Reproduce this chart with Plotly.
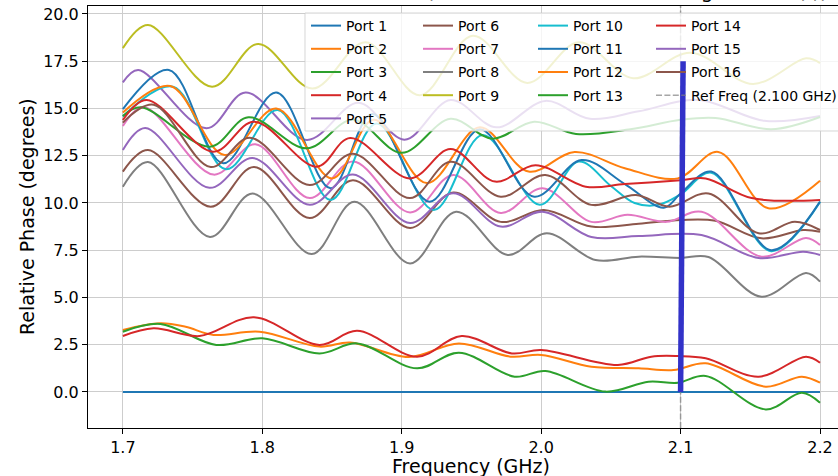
import plotly.graph_objects as go

# ---------------- data ----------------
tick_freqs = [1.7, 1.8, 1.9, 2.0, 2.1, 2.2]
tick_freq_labels = ["1.7", "1.8", "1.9", "2.0", "2.1", "2.2"]
tick_phase = [0.0, 2.5, 5.0, 7.5, 10.0, 12.5, 15.0, 17.5, 20.0]
tick_phase_labels = ["0.0", "2.5", "5.0", "7.5", "10.0", "12.5", "15.0", "17.5", "20.0"]

ref_freq = 2.100
marker_f = [2.100, 2.1018]
marker_v = [0.0, 17.5]

p1_f = [1.700, 2.200]
p1_v = [0.0, 0.0]

p2_f = [1.700, 1.727, 1.745, 1.765, 1.798, 1.841, 1.863, 1.905, 1.941, 1.978, 2.000, 2.036, 2.070, 2.095, 2.118, 2.161, 2.187, 2.200]
p2_v = [3.28, 3.63, 3.45, 3.02, 3.19, 2.40, 2.62, 1.85, 2.57, 1.87, 1.96, 1.34, 1.25, 1.16, 1.52, 0.28, 0.81, 0.49]

p3_f = [1.700, 1.727, 1.767, 1.800, 1.841, 1.868, 1.911, 1.941, 1.981, 2.003, 2.046, 2.077, 2.098, 2.118, 2.161, 2.187, 2.200]
p3_v = [3.19, 3.60, 2.49, 2.84, 2.04, 2.57, 1.25, 2.08, 0.81, 1.11, 0.02, 0.54, 0.49, 0.85, -0.92, -0.04, -0.57]

p4_f = [1.700, 1.722, 1.755, 1.794, 1.841, 1.868, 1.911, 1.943, 1.979, 2.000, 2.055, 2.079, 2.098, 2.118, 2.156, 2.190, 2.200]
p4_v = [2.96, 3.37, 2.96, 3.95, 2.49, 3.24, 1.87, 2.96, 2.04, 2.22, 1.43, 1.87, 1.90, 1.78, 0.81, 1.87, 1.55]

p5_f = [1.700, 1.711, 1.760, 1.788, 1.832, 1.869, 1.902, 1.935, 1.968, 2.003, 2.035, 2.070, 2.113, 2.160, 2.200]
p5_v = [16.38, 17.04, 13.95, 15.84, 13.33, 15.30, 13.35, 15.45, 14.00, 15.40, 14.45, 14.85, 15.45, 14.35, 14.60]

p6_f = [1.700, 1.718, 1.763, 1.794, 1.834, 1.865, 1.906, 1.937, 1.971, 2.002, 2.036, 2.070, 2.100, 2.125, 2.158, 2.188, 2.200]
p6_v = [11.66, 12.80, 9.80, 11.90, 9.20, 11.20, 8.68, 10.55, 9.00, 9.63, 8.75, 8.90, 9.10, 9.06, 8.13, 8.57, 8.48]

p7_f = [1.700, 1.715, 1.765, 1.795, 1.834, 1.865, 1.906, 1.937, 1.971, 2.001, 2.036, 2.062, 2.090, 2.115, 2.158, 2.190, 2.200]
p7_v = [14.07, 15.08, 11.50, 13.10, 10.26, 12.20, 9.50, 11.48, 9.47, 10.78, 9.00, 9.37, 9.00, 9.54, 7.16, 8.15, 7.78]

p8_f = [1.700, 1.718, 1.7625, 1.793, 1.8355, 1.866, 1.906, 1.939, 1.976, 2.004, 2.039, 2.070, 2.100, 2.120, 2.158, 2.190, 2.200]
p8_v = [10.86, 12.17, 8.20, 10.50, 7.30, 10.06, 6.80, 9.54, 7.25, 8.40, 6.98, 7.16, 7.09, 7.14, 5.04, 6.30, 5.84]

p9_f = [1.700, 1.718, 1.764, 1.797, 1.836, 1.874, 1.913, 1.951, 1.990, 2.027, 2.066, 2.107, 2.152, 2.190, 2.200]
p9_v = [18.19, 19.42, 16.15, 18.41, 16.05, 18.50, 15.70, 18.85, 16.35, 18.50, 16.60, 17.95, 16.30, 17.65, 17.40]

p10_f = [1.700, 1.736, 1.774, 1.811, 1.849, 1.882, 1.923, 1.958, 1.999, 2.027, 2.050, 2.067, 2.084, 2.100, 2.122, 2.165, 2.200]
p10_v = [14.57, 16.15, 11.78, 14.92, 10.16, 14.20, 9.63, 13.60, 9.90, 12.19, 10.90, 10.00, 9.90, 10.45, 11.60, 7.45, 10.05]

p11_f = [1.700, 1.733, 1.772, 1.810, 1.849, 1.879, 1.920, 1.956, 1.995, 2.029, 2.060, 2.088, 2.100, 2.122, 2.165, 2.200]
p11_v = [14.96, 17.04, 12.10, 15.84, 10.78, 14.70, 10.07, 13.90, 10.33, 12.27, 11.00, 9.75, 10.50, 11.66, 7.50, 10.07]

p12_f = [1.700, 1.734, 1.773, 1.810, 1.850, 1.880, 1.918, 1.956, 1.991, 2.024, 2.060, 2.098, 2.127, 2.163, 2.200]
p12_v = [14.78, 16.19, 12.54, 15.00, 11.30, 14.40, 11.05, 14.00, 11.66, 12.70, 11.84, 11.30, 12.70, 9.72, 11.18]

p13_f = [1.700, 1.713, 1.7625, 1.790, 1.832, 1.865, 1.900, 1.935, 1.965, 1.995, 2.025, 2.064, 2.100, 2.125, 2.165, 2.200]
p13_v = [14.60, 15.06, 12.98, 14.53, 12.89, 14.40, 12.65, 14.45, 13.40, 14.30, 13.65, 13.90, 14.40, 14.50, 13.90, 14.55]

p14_f = [1.700, 1.717, 1.765, 1.794, 1.839, 1.863, 1.906, 1.935, 1.967, 1.996, 2.032, 2.060, 2.100, 2.118, 2.151, 2.200]
p14_v = [14.39, 15.45, 12.71, 14.30, 11.92, 13.44, 11.30, 12.85, 11.13, 12.00, 10.86, 11.00, 11.20, 11.30, 10.26, 10.16]

p15_f = [1.700, 1.716, 1.762, 1.793, 1.834, 1.865, 1.906, 1.937, 1.971, 2.001, 2.036, 2.070, 2.115, 2.156, 2.188, 2.200]
p15_v = [12.80, 13.97, 10.80, 12.38, 9.90, 11.50, 8.94, 10.51, 8.75, 9.54, 8.20, 8.25, 8.30, 7.09, 7.42, 7.25]

p16_f = [1.700, 1.722, 1.763, 1.791, 1.834, 1.865, 1.906, 1.935, 1.971, 2.003, 2.036, 2.068, 2.092, 2.120, 2.156, 2.182, 2.200]
p16_v = [14.25, 15.20, 11.90, 13.45, 10.95, 12.60, 10.26, 12.18, 10.33, 11.48, 9.90, 10.42, 9.80, 10.50, 8.40, 9.00, 8.57]

port_names = ["Port %d" % i for i in range(1, 17)]
port_colors = ["#1f77b4", "#ff7f0e", "#2ca02c", "#d62728", "#9467bd", "#8c564b", "#e377c2", "#7f7f7f",
               "#bcbd22", "#17becf", "#1f77b4", "#ff7f0e", "#2ca02c", "#d62728", "#9467bd", "#8c564b"]
ref_label = "Ref Freq (2.100 GHz)"

# ---------------- layout geometry (pixels) ----------------
W, H = 838, 476
ML, MR, MT, MB = 88, 0, 6, 48
PW, PH = W - ML - MR, H - MT - MB


def px_x(p):
    return (p - ML) / PW


def px_y(p):
    return 1 - (p - MT) / PH


series_f = [p1_f, p2_f, p3_f, p4_f, p5_f, p6_f, p7_f, p8_f, p9_f, p10_f, p11_f, p12_f, p13_f, p14_f, p15_f, p16_f]
series_v = [p1_v, p2_v, p3_v, p4_v, p5_v, p6_v, p7_v, p8_v, p9_v, p10_v, p11_v, p12_v, p13_v, p14_v, p15_v, p16_v]
legend_of = ["legend"] * 5 + ["legend2"] * 4 + ["legend3"] * 4 + ["legend4"] * 3

fig = go.Figure()
for i in range(16):
    fig.add_trace(go.Scatter(
        x=series_f[i], y=series_v[i], mode="lines", name=port_names[i],
        line=dict(color=port_colors[i], width=2, shape="spline" if i > 0 else "linear", smoothing=1.0),
        legend=legend_of[i], legendgroup="g%d" % i, hoverinfo="skip",
    ))

# reference frequency line (dashed, full height)
fig.add_shape(type="line", xref="x", yref="y domain", x0=ref_freq, x1=ref_freq, y0=0, y1=1,
              line=dict(color="rgba(128,128,128,0.7)", width=1.5, dash="6px,2.4px"),
              layer="above", showlegend=True, name=ref_label, legend="legend4",
              legendgroup="ref", legendrank=2000)

# legend background box (single box behind the 4 legend columns)
fig.add_shape(type="rect", xref="paper", yref="paper",
              x0=px_x(305), x1=px_x(880), y0=px_y(131), y1=px_y(13),
              fillcolor="rgba(255,255,255,0.8)", line=dict(color="rgba(204,204,204,0.8)", width=1),
              layer="above")

# thick blue marker line drawn over everything
fig.add_shape(type="line", xref="x", yref="y", x0=marker_f[0], x1=marker_f[1], y0=marker_v[0], y1=marker_v[1],
              line=dict(color="#3232c8", width=5.5), layer="above")

font_family = "DejaVu Sans"
leg_common = dict(xref="paper", yref="paper", xanchor="left", yanchor="top",
                  bgcolor="rgba(0,0,0,0)", borderwidth=0, orientation="v",
                  traceorder="grouped", tracegroupgap=2, itemwidth=30,
                  font=dict(family=font_family, size=14, color="black"))

fig.update_layout(
    width=W, height=H,
    margin=dict(l=ML, r=MR, t=MT, b=MB, autoexpand=False),
    paper_bgcolor="white", plot_bgcolor="white",
    font=dict(family=font_family, color="black"),
    showlegend=True,
    legend=dict(x=px_x(306), y=px_y(10), **leg_common),
    legend2=dict(x=px_x(418), y=px_y(10), **leg_common),
    legend3=dict(x=px_x(533), y=px_y(10), **leg_common),
    legend4=dict(x=px_x(651), y=px_y(10), **leg_common),
    xaxis=dict(range=[1.675, 2.2129], tickvals=tick_freqs, ticktext=tick_freq_labels,
               showgrid=True, gridcolor="#cdcdcd", gridwidth=1, zeroline=False,
               showline=True, linecolor="black", linewidth=1, mirror=True,
               ticks="outside", ticklen=5, tickwidth=1, tickcolor="black",
               tickfont=dict(family=font_family, size=16, color="black")),
    yaxis=dict(range=[-1.905, 20.42], tickvals=tick_phase, ticktext=tick_phase_labels,
               showgrid=True, gridcolor="#cdcdcd", gridwidth=1, zeroline=False,
               showline=True, linecolor="black", linewidth=1, mirror=False,
               ticks="outside", ticklen=5, tickwidth=1, tickcolor="black",
               tickfont=dict(family=font_family, size=16, color="black")),
)

# axis titles and (mostly clipped) title
fig.add_annotation(text="Frequency (GHz)", xref="paper", yref="paper", x=px_x(471), y=px_y(466),
                   xanchor="center", yanchor="middle", showarrow=False,
                   font=dict(family=font_family, size=19, color="black"))
fig.add_annotation(text="Relative Phase (degrees)", xref="paper", yref="paper", x=px_x(27), y=px_y(217),
                   xanchor="center", yanchor="middle", showarrow=False, textangle=-90,
                   font=dict(family=font_family, size=19, color="black"))
fig.add_annotation(text="Relative Phase Across All Ports (Referenced to Port 1 at Target Band (f))",
                   xref="paper", yref="paper", x=px_x(471), y=px_y(5),
                   xanchor="center", yanchor="bottom", showarrow=False,
                   font=dict(family=font_family, size=20, color="black"))

fig.write_html("out.html", config={"displayModeBar": False},
               post_script="document.body.style.margin='0px';")
